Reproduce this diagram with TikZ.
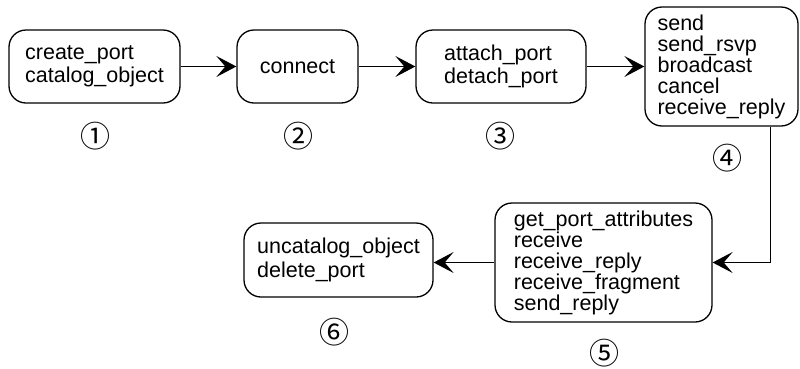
\documentclass[tikz,border=0pt]{standalone}
\usepackage{fontspec}
\setmainfont{Liberation Sans}
\newfontfamily\circfont{Noto Sans CJK SC}
\usetikzlibrary{arrows.meta}
\begin{document}
\begin{tikzpicture}[x=1pt,y=-1pt,
  box/.style={draw, line width=1.3pt, rounded corners=17pt, align=left, inner sep=0pt,
    font=\fontsize{21.5}{23.3}\selectfont},
  tight/.style={font=\fontsize{21.5}{21}\selectfont},
  flow/.style={draw, line width=1pt, -{Stealth[length=20pt,width=21pt,inset=9pt]}},
  num/.style={font=\circfont\fontsize{30}{30}\selectfont, inner sep=0pt}]
\useasboundingbox (0,0) rectangle (800,368);
\node[box, minimum width=171pt, minimum height=73pt] (b1) at (94.5,66.5) {create\_port\\catalog\_object};
\node[box, minimum width=121pt, minimum height=73pt] (b2) at (297.5,66.5) {connect};
\node[box, minimum width=170pt, minimum height=73pt] (b3) at (501,66.5) {attach\_port\\detach\_port};
\node[box, tight, minimum width=153pt, minimum height=119pt] (b4) at (721.5,66.5) {send\\send\_rsvp\\broadcast\\cancel\\receive\_reply};
\node[box, tight, minimum width=217pt, minimum height=119pt] (b5) at (603.5,262.5) {get\_port\_attributes\\receive\\receive\_reply\\receive\_fragment\\send\_reply};
\node[box, minimum width=189pt, minimum height=74pt] (b6) at (338.5,260) {uncatalog\_object\\delete\_port};
\node[num] (n1) at (95,136) {①};
\node[num] (n2) at (298,136) {②};
\node[num] (n3) at (500,136) {③};
\node[num] (n4) at (727,158) {④};
\node[num] (n5) at (604,353) {⑤};
\node[num] (n6) at (334,332) {⑥};
\draw[flow] (b1) -- (b2);
\draw[flow] (b2) -- (b3);
\draw[flow] (b3) -- (b4);
\draw[flow] ([xshift=48.5pt]b4.south) |- (b5.east);
\draw[flow] (b5.west) -- (b6.east |- b5.west);
\end{tikzpicture}
\end{document}
